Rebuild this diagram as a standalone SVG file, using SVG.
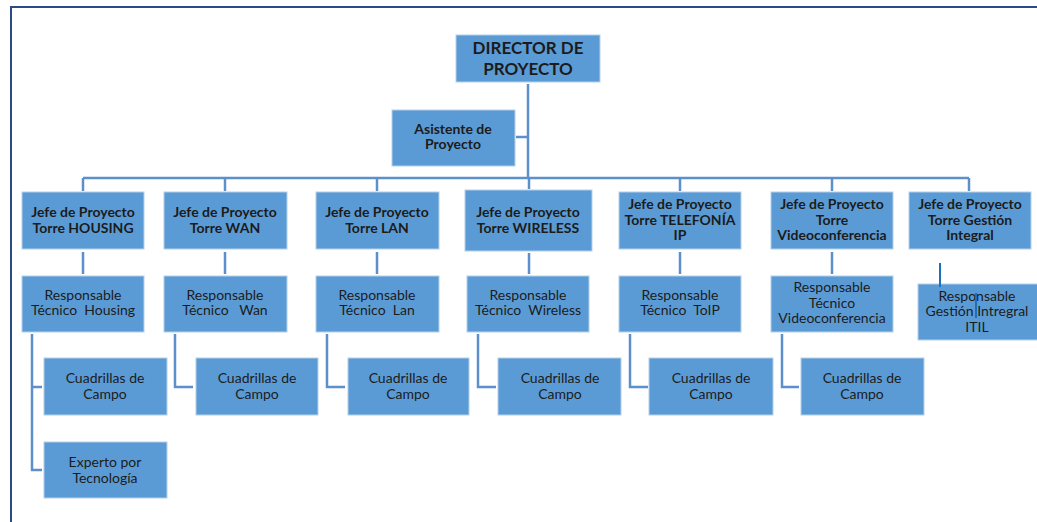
<svg xmlns="http://www.w3.org/2000/svg" width="1037" height="522" viewBox="0 0 1037 522">
  <style>
    .box { fill: #5b9bd5; stroke: #b4d0ec; stroke-width: 1; }
    .t { font-family: Lato, "Open Sans", sans-serif; font-size: 14px; fill: #1b1b1b; text-anchor: middle; white-space: pre; }
    .b { font-weight: bold; }
    .big { font-size: 17px; font-weight: bold; }
    .link { stroke: #5d8fca; stroke-width: 2.5; fill: none; }
    .link2 { stroke: #1f6fc0; stroke-width: 2; fill: none; }
  </style>
  <rect width="1037" height="522" fill="#ffffff"/>
  <!-- page frame -->
  <path d="M11,522 V7 H1037" fill="none" stroke="#2e4a86" stroke-width="2"/>

  <g id="director">
    <rect class="box" x="456" y="35" width="144" height="47"/>
    <text class="t big" x="528" y="53.5">DIRECTOR DE</text>
    <text class="t big" x="528" y="75">PROYECTO</text>
  </g>
  <g id="asistente">
    <rect class="box" x="392" y="110" width="123" height="56"/>
    <text class="t b" x="453" y="134">Asistente de</text>
    <text class="t b" x="453" y="149">Proyecto</text>
  </g>

  <g id="jefe-housing">
    <rect class="box" x="22" y="192" width="122" height="57"/>
    <text class="t b" x="83" y="217">Jefe de Proyecto</text>
    <text class="t b" x="83" y="233">Torre HOUSING</text>
  </g>
  <g id="jefe-wan">
    <rect class="box" x="164" y="192" width="123" height="57"/>
    <text class="t b" x="225" y="217">Jefe de Proyecto</text>
    <text class="t b" x="225" y="233">Torre WAN</text>
  </g>
  <g id="jefe-lan">
    <rect class="box" x="316" y="192" width="123" height="57"/>
    <text class="t b" x="377" y="217">Jefe de Proyecto</text>
    <text class="t b" x="377" y="233">Torre LAN</text>
  </g>
  <g id="jefe-wireless">
    <rect class="box" x="465" y="190" width="127" height="61"/>
    <text class="t b" x="528" y="217">Jefe de Proyecto</text>
    <text class="t b" x="528" y="233">Torre WIRELESS</text>
  </g>
  <g id="jefe-telefonia">
    <rect class="box" x="619" y="192" width="122" height="57"/>
    <text class="t b" x="680" y="209">Jefe de Proyecto</text>
    <text class="t b" x="680" y="224.5">Torre TELEFONÍA</text>
    <text class="t b" x="680" y="240">IP</text>
  </g>
  <g id="jefe-video">
    <rect class="box" x="771" y="192" width="122" height="57"/>
    <text class="t b" x="832" y="209">Jefe de Proyecto</text>
    <text class="t b" x="832" y="224.5">Torre</text>
    <text class="t b" x="832" y="240">Videoconferencia</text>
  </g>
  <g id="jefe-gestion">
    <rect class="box" x="909" y="192" width="122" height="57"/>
    <text class="t b" x="970" y="209">Jefe de Proyecto</text>
    <text class="t b" x="970" y="224.5">Torre Gestión</text>
    <text class="t b" x="970" y="240">Integral</text>
  </g>

  <g id="resp-housing">
    <rect class="box" x="22" y="276" width="122" height="56"/>
    <text class="t" x="83" y="300">Responsable</text>
    <text class="t" x="83" y="315">Técnico  Housing</text>
  </g>
  <g id="resp-wan">
    <rect class="box" x="164" y="276" width="123" height="56"/>
    <text class="t" x="225" y="300">Responsable</text>
    <text class="t" x="225" y="315">Técnico   Wan</text>
  </g>
  <g id="resp-lan">
    <rect class="box" x="316" y="276" width="123" height="56"/>
    <text class="t" x="377" y="300">Responsable</text>
    <text class="t" x="377" y="315">Técnico  Lan</text>
  </g>
  <g id="resp-wireless">
    <rect class="box" x="467" y="276" width="122" height="56"/>
    <text class="t" x="528" y="300">Responsable</text>
    <text class="t" x="528" y="315">Técnico  Wireless</text>
  </g>
  <g id="resp-toip">
    <rect class="box" x="619" y="276" width="122" height="56"/>
    <text class="t" x="680" y="300">Responsable</text>
    <text class="t" x="680" y="315">Técnico  ToIP</text>
  </g>
  <g id="resp-video">
    <rect class="box" x="771" y="276" width="122" height="56"/>
    <text class="t" x="832" y="292">Responsable</text>
    <text class="t" x="832" y="307.5">Técnico</text>
    <text class="t" x="832" y="323">Videoconferencia</text>
  </g>
  <g id="resp-gestion">
    <rect class="box" x="918" y="284" width="125" height="56"/>
    <text class="t" x="977" y="301">Responsable</text>
    <text class="t" x="977" y="316">Gestión Intregral</text>
    <text class="t" x="977" y="331.5">ITIL</text>
  </g>

  <g id="cuadrillas-housing">
    <rect class="box" x="44" y="358" width="123" height="57"/>
    <text class="t" x="105" y="383">Cuadrillas de</text>
    <text class="t" x="105" y="399">Campo</text>
  </g>
  <g id="experto">
    <rect class="box" x="44" y="442" width="123" height="56"/>
    <text class="t" x="105" y="467">Experto por</text>
    <text class="t" x="105" y="483">Tecnología</text>
  </g>
  <g id="cuadrillas-wan">
    <rect class="box" x="196" y="358" width="122" height="57"/>
    <text class="t" x="257" y="383">Cuadrillas de</text>
    <text class="t" x="257" y="399">Campo</text>
  </g>
  <g id="cuadrillas-lan">
    <rect class="box" x="348" y="358" width="121" height="57"/>
    <text class="t" x="408" y="383">Cuadrillas de</text>
    <text class="t" x="408" y="399">Campo</text>
  </g>
  <g id="cuadrillas-wireless">
    <rect class="box" x="498" y="358" width="123" height="57"/>
    <text class="t" x="560" y="383">Cuadrillas de</text>
    <text class="t" x="560" y="399">Campo</text>
  </g>
  <g id="cuadrillas-toip">
    <rect class="box" x="649" y="358" width="124" height="57"/>
    <text class="t" x="711" y="383">Cuadrillas de</text>
    <text class="t" x="711" y="399">Campo</text>
  </g>
  <g id="cuadrillas-video">
    <rect class="box" x="801" y="358" width="123" height="57"/>
    <text class="t" x="862" y="383">Cuadrillas de</text>
    <text class="t" x="862" y="399">Campo</text>
  </g>

  <!-- connectors drawn last so the stray strokes over the ITIL box stay visible -->
  <g id="connectors">
    <path class="link" d="M528,84 V178 M516,137 H528 M83,178 H969"/>
    <path class="link" d="M83,178 V191 M225,178 V191 M377,178 V191 M529,178 V189 M680,178 V191 M832,178 V191 M969,178 V191"/>
    <path class="link" d="M83,252 V274 M225,252 V274 M377,252 V274 M529,253 V274 M680,252 V274 M832,252 V274"/>
    <path class="link" d="M32,334 V470 H42 M32,387 H42"/>
    <path class="link" d="M175,334 V387 H193"/>
    <path class="link" d="M327,334 V387 H345"/>
    <path class="link" d="M478,334 V387 H496"/>
    <path class="link" d="M630,334 V387 H648"/>
    <path class="link" d="M782,334 V387 H799"/>
    <path class="link2" d="M940,263 V287 M976,293 V318"/>
  </g>
</svg>
